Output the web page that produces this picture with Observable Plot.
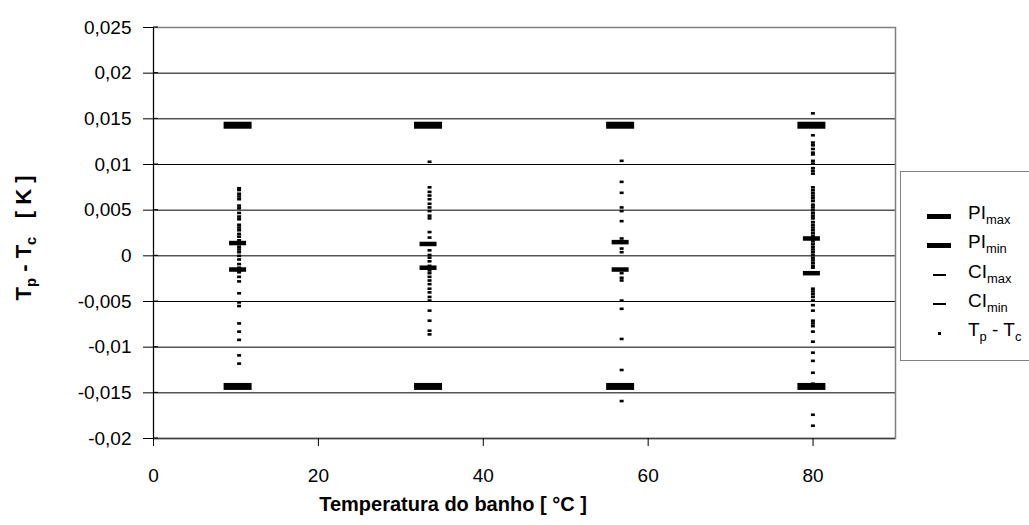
<!DOCTYPE html>
<html>
<head>
<meta charset="utf-8">
<script src="https://cdn.jsdelivr.net/npm/d3@7"></script>
<script src="https://cdn.jsdelivr.net/npm/@observablehq/plot@0.6"></script>
<style>
  html, body { margin: 0; padding: 0; background: #fff; overflow: hidden; }
  #wrap { position: relative; width: 1029px; height: 525px; font-family: "Liberation Sans", Arial, sans-serif; overflow: hidden; }
  #wrap svg { position: absolute; left: 0; top: 0; }
  .ytitle { position: absolute; left: 24px; top: 238px; transform: translate(-50%, -50%) rotate(-90deg); font-weight: bold; font-size: 22px; white-space: nowrap; }
  .xtitle { position: absolute; left: 453px; top: 493px; transform: translateX(-50%); font-weight: bold; font-size: 20px; white-space: nowrap; }
  sub { font-size: 0.68em; vertical-align: -0.35em; line-height: 0; }
  .legend { position: absolute; left: 900px; top: 171px; width: 160px; height: 190px; border: 1px solid #808080; background: #fff; box-sizing: border-box; }
  .row { position: absolute; left: 0; height: 29px; width: 160px; }
  .sym { position: absolute; background: #000; }
  .lab { position: absolute; left: 67px; top: 50%; transform: translateY(-62%); font-size: 19px; white-space: nowrap; }
</style>
</head>
<body>
<div id="wrap"></div>
<script>
// ---- data ----
const clusterX = [10.2, 33.3, 56.6, 79.8];          // bath temperature [°C]
const piMax = [0.0143, 0.0143, 0.0143, 0.0143];
const piMin = [-0.0143, -0.0143, -0.0143, -0.0143];
const ciMax = [0.0014, 0.0013, 0.0015, 0.0019];
const ciMin = [-0.0015, -0.0013, -0.0015, -0.0019];

const diff10 = [0.0074, 0.0072, 0.0068, 0.0065, 0.0062, 0.0055, 0.0052, 0.0047, 0.0043, 0.0040,
  0.0034, 0.0031, 0.0028, 0.0024, 0.0021, 0.0017, 0.0010, 0.0007, 0.0004, 0.0000,
  -0.0004, -0.0009, -0.0013, -0.0018, -0.0023, -0.0028, -0.0041, -0.0051, -0.0055,
  -0.0074, -0.0083, -0.0092, -0.0109, -0.0118];
const diff33 = [0.0103, 0.0075, 0.0070, 0.0066, 0.0062, 0.0057, 0.0053, 0.0049, 0.0044, 0.0041,
  0.0026, 0.0020, 0.0006, 0.0001, -0.0002, -0.0006, -0.0011, -0.0016, -0.0019, -0.0023,
  -0.0027, -0.0031, -0.0036, -0.0040, -0.0045, -0.0049, -0.0060, -0.0071, -0.0082, -0.0086];
const diff57 = [0.0104, 0.0081, 0.0069, 0.0053, 0.0049, 0.0038, 0.0019, 0.0008, 0.0004,
  -0.0019, -0.0024, -0.0027, -0.0049, -0.0058, -0.0091, -0.0125, -0.0159];
const diff80 = [0.0156, 0.0132, 0.0124, 0.0121, 0.0117, 0.0113, 0.0111, 0.0104, 0.0101, 0.0096,
  0.0093, 0.0090, 0.0075, 0.0072, 0.0069, 0.0066, 0.0063, 0.0060, 0.0056, 0.0053,
  0.0050, 0.0047, 0.0044, 0.0041, 0.0037, 0.0034, 0.0031, 0.0028, 0.0025, 0.0022,
  0.0016, 0.0013, 0.0010, 0.0007, 0.0004, 0.0001, -0.0002, -0.0005, -0.0008, -0.0011,
  -0.0013, -0.0036, -0.0039, -0.0042, -0.0045, -0.0049, -0.0054, -0.0060, -0.0071, -0.0074,
  -0.0077, -0.0083, -0.0094, -0.0106, -0.0115, -0.0128, -0.0140, -0.0174, -0.0186];

const xTicks = [0, 20, 40, 60, 80];
const yTicks = [-0.02, -0.015, -0.01, -0.005, 0, 0.005, 0.01, 0.015, 0.02, 0.025];
const legendLabels = [["PI", "max"], ["PI", "min"], ["CI", "max"], ["CI", "min"], ["T", "p", " - T", "c"]];

// ---- tables ----
const bars = clusterX.map((x, i) => ({x, piMax: piMax[i], piMin: piMin[i], ciMax: ciMax[i], ciMin: ciMin[i]}));
const points = [diff10, diff33, diff57, diff80].flatMap((arr, i) => arr.map(y => ({x: clusterX[i], y})));

function rectSymbol(w, h) {
  return {draw(ctx) {
    ctx.moveTo(-w / 2, -h / 2); ctx.lineTo(w / 2, -h / 2);
    ctx.lineTo(w / 2, h / 2); ctx.lineTo(-w / 2, h / 2); ctx.closePath();
  }};
}
const fmt = d => String(+d.toFixed(3)).replace(".", ",");

const chart = Plot.plot({
  width: 1029, height: 525,
  marginLeft: 153, marginRight: 134, marginTop: 27, marginBottom: 87,
  style: {fontFamily: "'Liberation Sans', Arial, sans-serif", fontSize: "19px", color: "#000", background: "transparent", overflow: "visible"},
  x: {domain: [0, 90]},
  y: {domain: [-0.02, 0.025]},
  marks: [
    Plot.gridY(yTicks, {stroke: "#000", strokeOpacity: 1, strokeWidth: 1}),
    Plot.frame({stroke: "#808080", strokeWidth: 1.5}),
    Plot.ruleX([0], {stroke: "#000"}),
    Plot.ruleY([-0.02], {stroke: "#404040", strokeWidth: 1.5}),
    Plot.axisY(yTicks, {tickSize: 10, tickPadding: 12, tickFormat: fmt, label: null, fontSize: 19}),
    Plot.axisX(xTicks, {tickSize: 8, tickPadding: 22, tickFormat: d => String(d), label: null, fontSize: 19}),
    Plot.dot(points, {x: "x", y: "y", dx: 1.5, symbol: rectSymbol(4, 2.6), fill: "#000"}),
    Plot.dot(bars, {x: "x", y: "piMax", symbol: rectSymbol(28, 7), fill: "#000"}),
    Plot.dot(bars, {x: "x", y: "piMin", symbol: rectSymbol(28, 7), fill: "#000"}),
    Plot.dot(bars, {x: "x", y: "ciMax", symbol: rectSymbol(17, 4.5), fill: "#000"}),
    Plot.dot(bars, {x: "x", y: "ciMin", symbol: rectSymbol(17, 4.5), fill: "#000"})
  ]
});

const wrap = document.getElementById("wrap");
wrap.appendChild(chart);

// inner part of y ticks (they cross the axis line)
const yS = chart.scale("y");
const ns = "http://www.w3.org/2000/svg";
const g = document.createElementNS(ns, "g");
yTicks.forEach(t => {
  const l = document.createElementNS(ns, "line");
  l.setAttribute("x1", 153); l.setAttribute("x2", 158);
  l.setAttribute("y1", yS.apply(t)); l.setAttribute("y2", yS.apply(t));
  l.setAttribute("stroke", "#000");
  g.appendChild(l);
});
chart.appendChild(g);

// titles
const yt = document.createElement("div");
yt.className = "ytitle";
yt.innerHTML = "T<sub>p</sub> - T<sub>c</sub>&nbsp;&nbsp; [ K ]";
wrap.appendChild(yt);
const xt = document.createElement("div");
xt.className = "xtitle";
xt.textContent = "Temperatura do banho [ °C ]";
wrap.appendChild(xt);

// legend
const leg = document.createElement("div");
leg.className = "legend";
const symSizes = [[24, 5], [24, 5], [13, 2], [13, 2], [3, 3]];
const rowCenters = [44, 73, 103, 132, 161]; // relative to legend box top
legendLabels.forEach((parts, i) => {
  const row = document.createElement("div");
  row.className = "row";
  row.style.top = (rowCenters[i] - 14.5) + "px";
  const s = document.createElement("div");
  s.className = "sym";
  const [w, h] = symSizes[i];
  s.style.width = w + "px"; s.style.height = h + "px";
  s.style.left = (38 - w / 2) + "px"; s.style.top = (14.5 - h / 2) + "px";
  row.appendChild(s);
  const lab = document.createElement("div");
  lab.className = "lab";
  let html = "";
  for (let k = 0; k < parts.length; k += 2) {
    html += parts[k] + (parts[k + 1] ? "<sub>" + parts[k + 1] + "</sub>" : "");
  }
  lab.innerHTML = html;
  row.appendChild(lab);
  leg.appendChild(row);
});
wrap.appendChild(leg);
</script>
</body>
</html>
